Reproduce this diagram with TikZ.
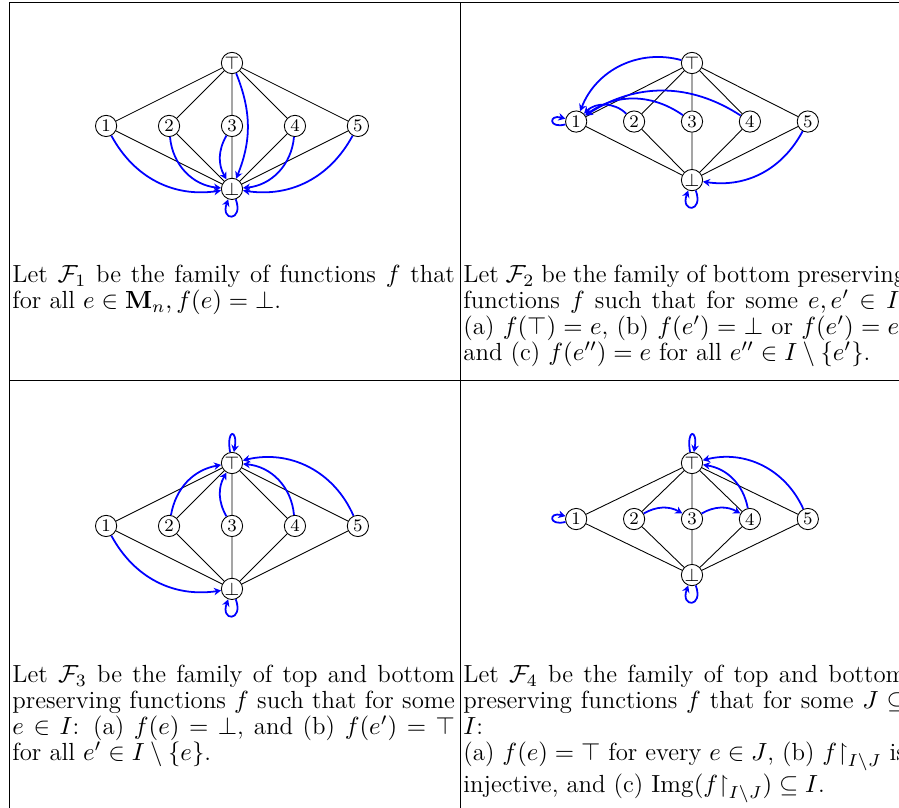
\RequirePackage{fix-cm}
\documentclass[tikz,border=0pt]{standalone}
\usepackage{amsmath,amssymb}
\usetikzlibrary{arrows.meta,positioning}

\begin{document}
\begin{tikzpicture}[
        x=0.452pt, y=0.452pt,
        on grid,
        elem/.style={
            circle,
            draw,
            minimum size=9.6pt,
            inner sep=0pt,
            font=\footnotesize
        },
        edge/.style={
            draw=black
        },
        fmap/.style={
            draw=blue,
            thick,
            -{Stealth[length=3.2pt,width=3.4pt]}
        },
        cellText/.style={
            anchor=north west,
            text width=200pt,
            align=justify,
            inner sep=0pt,
            font={\fontsize{11.2}{11.75}\selectfont}
        },
        rule/.style={
            line width=0.45pt
        }
    ]

        \useasboundingbox (0,0) rectangle (899,-808);
        \clip (0,0) rectangle (899,-808);

        % Table rules
        \draw[rule] (9,-812) -- (9,-2) -- (910,-2);
        \draw[rule] (460,-2) -- (460,-812);
        \draw[rule] (9,-380) -- (910,-380);

        % Cell 1
        \node[elem] (firstTop) at (232,-63) {$\top$};
        \node[elem, below=1cm of firstTop] (firstThree) {3};
        \node[elem, left=1cm of firstThree] (firstTwo) {2};
        \node[elem, left=1cm of firstTwo] (firstOne) {1};
        \node[elem, right=1cm of firstThree] (firstFour) {4};
        \node[elem, right=1cm of firstFour] (firstFive) {5};
        \node[elem, below=1cm of firstThree] (firstBot) {$\bot$};

        \draw[edge] (firstTop) -- (firstOne) (firstTop) -- (firstTwo)
            (firstTop) -- (firstThree) (firstTop) -- (firstFour)
            (firstTop) -- (firstFive);
        \draw[edge] (firstBot) -- (firstOne) (firstBot) -- (firstTwo)
            (firstBot) -- (firstThree) (firstBot) -- (firstFour)
            (firstBot) -- (firstFive);

        \draw[fmap] (firstOne) to[bend right=35] (firstBot);
        \draw[fmap] (firstTwo) to[bend right=40] (firstBot);
        \draw[fmap] (firstThree) to[bend right=30] (firstBot);
        \draw[fmap] (firstTop) to[bend left=22] (firstBot);
        \draw[fmap] (firstFour) to[bend left=40] (firstBot);
        \draw[fmap] (firstFive) to[bend left=35] (firstBot);
        \draw[fmap] (firstBot) to[out=-70, in=-110, min distance=3.8mm] (firstBot);

        \node[cellText] (firstText) at (12,-265) {
            Let $\mathcal{F}_1$ be the family of functions $f$ that
            for all $e\in\mathbf{M}_n, f(e)=\bot$.
        };

        % Cell 2
        \node[elem] (secondTop) at (692,-63) {$\top$};
        \node[elem, below=0.93cm of secondTop] (secondThree) {3};
        \node[elem, left=0.92cm of secondThree] (secondTwo) {2};
        \node[elem, left=0.92cm of secondTwo] (secondOne) {1};
        \node[elem, right=0.92cm of secondThree] (secondFour) {4};
        \node[elem, right=0.92cm of secondFour] (secondFive) {5};
        \node[elem, below=0.93cm of secondThree] (secondBot) {$\bot$};

        \draw[edge] (secondTop) -- (secondOne) (secondTop) -- (secondTwo)
            (secondTop) -- (secondThree) (secondTop) -- (secondFour)
            (secondTop) -- (secondFive);
        \draw[edge] (secondBot) -- (secondOne) (secondBot) -- (secondTwo)
            (secondBot) -- (secondThree) (secondBot) -- (secondFour)
            (secondBot) -- (secondFive);

        \draw[fmap] (secondTop) to[bend right=42] (secondOne);
        \draw[fmap] (secondTwo) to[bend right=45] (secondOne);
        \draw[fmap] (secondThree) to[bend right=35] (secondOne);
        \draw[fmap] (secondFour) to[bend right=33] (secondOne);
        \draw[fmap] (secondFive) to[bend left=35] (secondBot);
        \draw[fmap] (secondOne) to[out=-165, in=165, min distance=2.8mm] (secondOne);
        \draw[fmap] (secondBot) to[out=-70, in=-110, min distance=3.8mm] (secondBot);

        \node[cellText] (secondText) at (463,-265) {
            Let $\mathcal{F}_2$ be the family of bottom preserving
            functions $f$ such that for some $e,e'\in I$:
            (a) $f(\top)=e$, (b) $f(e')=\bot$ or $f(e')=e$,
            and (c) $f(e'')=e$ for all $e''\in I\setminus\{e'\}$.
        };

        % Cell 3
        \node[elem] (thirdTop) at (232,-463) {$\top$};
        \node[elem, below=1cm of thirdTop] (thirdThree) {3};
        \node[elem, left=1cm of thirdThree] (thirdTwo) {2};
        \node[elem, left=1cm of thirdTwo] (thirdOne) {1};
        \node[elem, right=1cm of thirdThree] (thirdFour) {4};
        \node[elem, right=1cm of thirdFour] (thirdFive) {5};
        \node[elem, below=1cm of thirdThree] (thirdBot) {$\bot$};

        \draw[edge] (thirdTop) -- (thirdOne) (thirdTop) -- (thirdTwo)
            (thirdTop) -- (thirdThree) (thirdTop) -- (thirdFour)
            (thirdTop) -- (thirdFive);
        \draw[edge] (thirdBot) -- (thirdOne) (thirdBot) -- (thirdTwo)
            (thirdBot) -- (thirdThree) (thirdBot) -- (thirdFour)
            (thirdBot) -- (thirdFive);

        \draw[fmap] (thirdTop) to[out=100, in=80, min distance=3.8mm] (thirdTop);
        \draw[fmap] (thirdTwo) to[bend left=35] (thirdTop);
        \draw[fmap] (thirdThree) to[bend left=30] (thirdTop);
        \draw[fmap] (thirdFour) to[bend right=40] (thirdTop);
        \draw[fmap] (thirdFive) to[bend right=40] (thirdTop);
        \draw[fmap] (thirdOne) to[bend right=35] (thirdBot);
        \draw[fmap] (thirdBot) to[out=-70, in=-110, min distance=3.8mm] (thirdBot);

        \node[cellText] (thirdText) at (12,-665) {
            Let $\mathcal{F}_3$ be the family of top and bottom
            preserving functions $f$ such that for some
            $e\in I$: (a) $f(e)=\bot$, and (b) $f(e')=\top$
            for all $e'\in I\setminus\{e\}$.
        };

        % Cell 4
        \node[elem] (fourthTop) at (692,-463) {$\top$};
        \node[elem, below=0.89cm of fourthTop] (fourthThree) {3};
        \node[elem, left=0.92cm of fourthThree] (fourthTwo) {2};
        \node[elem, left=0.92cm of fourthTwo] (fourthOne) {1};
        \node[elem, right=0.92cm of fourthThree] (fourthFour) {4};
        \node[elem, right=0.92cm of fourthFour] (fourthFive) {5};
        \node[elem, below=0.89cm of fourthThree] (fourthBot) {$\bot$};

        \draw[edge] (fourthTop) -- (fourthOne) (fourthTop) -- (fourthTwo)
            (fourthTop) -- (fourthThree) (fourthTop) -- (fourthFour)
            (fourthTop) -- (fourthFive);
        \draw[edge] (fourthBot) -- (fourthOne) (fourthBot) -- (fourthTwo)
            (fourthBot) -- (fourthThree) (fourthBot) -- (fourthFour)
            (fourthBot) -- (fourthFive);

        \draw[fmap] (fourthTop) to[out=100, in=80, min distance=3.8mm] (fourthTop);
        \draw[fmap] (fourthOne) to[out=-165, in=165, min distance=2.8mm] (fourthOne);
        \draw[fmap] (fourthTwo) to[bend left=30] (fourthThree);
        \draw[fmap] (fourthThree) to[bend left=30] (fourthFour);
        \draw[fmap] (fourthFour) to[bend right=35] (fourthTop);
        \draw[fmap] (fourthFive) to[bend right=40] (fourthTop);
        \draw[fmap] (fourthBot) to[out=-70, in=-110, min distance=3.8mm] (fourthBot);

        \node[cellText] (fourthText) at (463,-665) {
            Let $\mathcal{F}_4$ be the family of top and bottom
            preserving functions $f$ that for some $J\subseteq I$:\\
            (a) $f(e)=\top$ for every $e\in J$, (b) $f{\upharpoonright}_{I\setminus J}$ is
            injective, and (c) $\mathrm{Img}(f{\upharpoonright}_{I\setminus J})\subseteq I$.
        };

    \end{tikzpicture}
\end{document}
